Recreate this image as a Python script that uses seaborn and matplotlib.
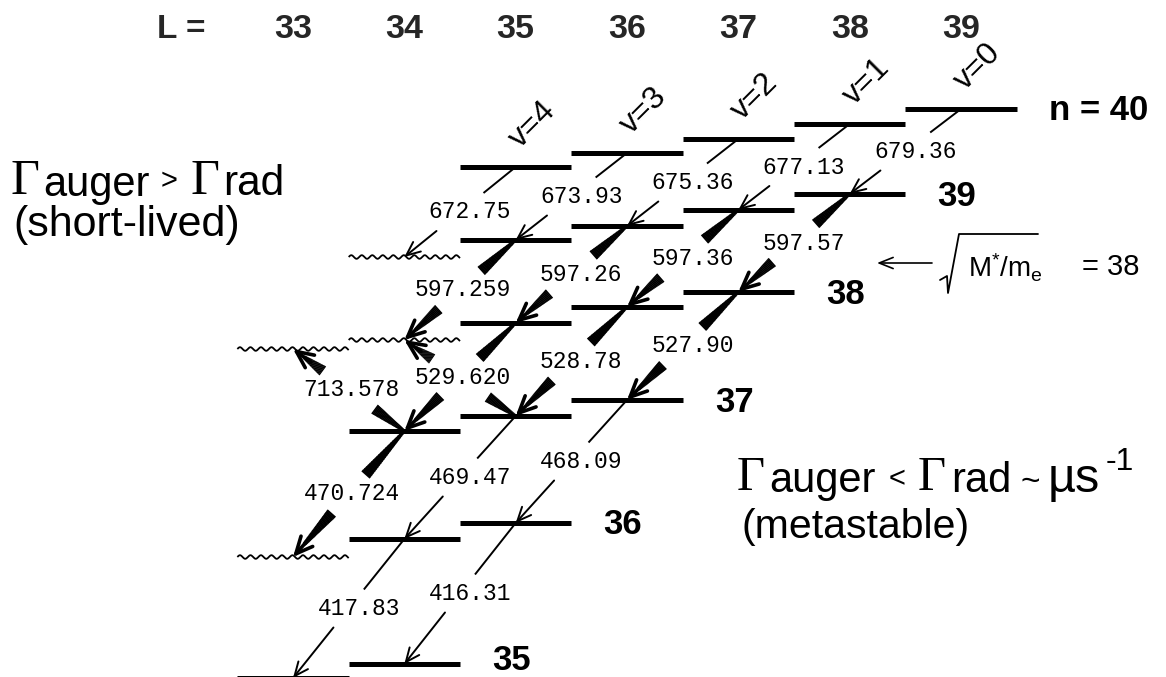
import numpy as np
import pandas as pd
import matplotlib
matplotlib.use("Agg")
import matplotlib.pyplot as plt
from matplotlib.collections import LineCollection
import seaborn as sns

# ------------------------------------------------------------------ data
# energy levels: principal quantum number n, angular momentum L,
# energy (arbitrary units) and how the level is drawn
level_n = [40, 40, 40, 40, 40,
           39, 39, 39, 39, 39,
           38, 38, 38, 38, 38,
           37, 37, 37,
           36, 36, 36,
           35, 35]
level_L = [35, 36, 37, 38, 39,
           34, 35, 36, 37, 38,
           33, 34, 35, 36, 37,
           34, 35, 36,
           33, 34, 35,
           33, 34]
level_E = [510, 524, 538, 553, 568,
           420, 437, 451, 467, 483,
           328, 337, 354, 370, 385,
           246, 261, 277,
           120, 138, 154,
           -1, 13]
level_kind = ["bar"] * 5 + \
             ["wavy", "bar", "bar", "bar", "bar"] + \
             ["wavy", "wavy", "bar", "bar", "bar"] + \
             ["bar"] * 3 + \
             ["wavy", "bar", "bar"] + \
             ["bar", "bar"]

# transitions (from level -> to level), wavelength label (nm), strength
tr_from_n = [40, 40, 40, 40, 40, 39, 39, 39, 39, 38, 38, 38, 37, 37, 37, 36, 36, 37, 37]
tr_from_L = [35, 36, 37, 38, 39, 35, 36, 37, 38, 35, 36, 37, 34, 35, 36, 34, 35, 34, 35]
tr_to_n   = [39, 39, 39, 39, 39, 38, 38, 38, 38, 37, 37, 37, 36, 36, 36, 35, 35, 38, 38]
tr_to_L   = [34, 35, 36, 37, 38, 34, 35, 36, 37, 34, 35, 36, 33, 34, 35, 33, 34, 33, 34]
tr_label  = ["672.75", "673.93", "675.36", "677.13", "679.36",
             "597.259", "597.26", "597.36", "597.57",
             "529.620", "528.78", "527.90",
             "470.724", "469.47", "468.09",
             "417.83", "416.31",
             "713.578", ""]
tr_weight = ["thin"] * 5 + ["thick"] * 4 + ["thick"] * 3 + \
            ["thick", "thin", "thin"] + ["thin", "thin"] + ["thick", "thick"]

v_labels = ["v=4", "v=3", "v=2", "v=1", "v=0"]
v_L = [35, 36, 37, 38, 39]
L_ticks = [33, 34, 35, 36, 37, 38, 39]
n_values = [40, 39, 38, 37, 36, 35]

# ------------------------------------------------------------------ style
sns.set_theme(style="white")
plt.rcParams["font.family"] = ["Liberation Sans", "DejaVu Sans"]
plt.rcParams["mathtext.fontset"] = "custom"
plt.rcParams["mathtext.rm"] = "Liberation Sans"
plt.rcParams["mathtext.sf"] = "Liberation Sans"
plt.rcParams["mathtext.it"] = "Liberation Sans"

W, H, DPI = 1166, 677, 100
X0_PX, PX_PER_L = 293.0, 111.33
PT = 0.72  # points per pixel

fig = plt.figure(figsize=(W / DPI, H / DPI), dpi=DPI)
ax = fig.add_axes([0, 0, 1, 1])
ax.set_xlim(33 - X0_PX / PX_PER_L, 33 + (W - X0_PX) / PX_PER_L)
ax.set_ylim(0, H)

lev = pd.DataFrame(dict(n=level_n, L=level_L, E=level_E, kind=level_kind))
E_of = {(r.n, r.L): r.E for r in lev.itertuples()}

# level bars via seaborn
bars = lev[lev.kind == "bar"]
seg = pd.concat([bars.assign(x=bars.L - 0.5), bars.assign(x=bars.L + 0.5)])
seg["uid"] = seg.n.astype(str) + "-" + seg.L.astype(str)
sns.lineplot(data=seg, x="x", y="E", units="uid", estimator=None, color="black",
             lw=5 * PT, legend=False, ax=ax, solid_capstyle="butt")

# Auger-dominated (short-lived) levels: wavy lines
for r in lev[lev.kind == "wavy"].itertuples():
    xs = np.linspace(r.L - 0.5, r.L + 0.5, 400)
    ys = r.E + 1.8 * np.sin(2 * np.pi * (xs - (r.L - 0.5)) * PX_PER_L / 10.5)
    ax.plot(xs, ys, color="black", lw=1.3, solid_capstyle="butt")


def taper(p, t0, t1, w0, w1, n=24):
    ts = np.linspace(t0, t1, n + 1)
    segs = []
    for i in range(n):
        a = p(ts[i])
        b = p(min(ts[i + 1] + (ts[1] - ts[0]) * 0.3, t1))
        segs.append([a, b])
    lws = np.linspace(w0, w1, n) * PT
    ax.add_collection(LineCollection(segs, linewidths=lws, colors="black",
                                     capstyle="butt"))


GAP = 38
for fn, fL, tn, tL, lab, wt in zip(tr_from_n, tr_from_L, tr_to_n, tr_to_L,
                                   tr_label, tr_weight):
    x0, y0 = fL, E_of[(fn, fL)]
    x1, y1 = tL, E_of[(tn, tL)]
    dE = abs(y1 - y0)
    ta = 0.5 - GAP / 2 / dE
    tb = 0.5 + GAP / 2 / dE

    def P(t, x0=x0, y0=y0, x1=x1, y1=y1):
        return (x0 + (x1 - x0) * t, y0 + (y1 - y0) * t)

    if wt == "thin":
        pa = P(ta)
        ax.plot([x0, pa[0]], [y0, pa[1]], color="black", lw=1.4,
                solid_capstyle="butt")
        ax.annotate("", xy=(x1, y1), xytext=P(tb), annotation_clip=False,
                    arrowprops=dict(arrowstyle="->,head_length=0.5,head_width=0.22",
                                    lw=1.4, color="black", shrinkA=0, shrinkB=0,
                                    mutation_scale=20))
    else:
        taper(P, 0.0, ta, 3, 11)
        taper(P, tb, 0.9, 11, 4)
        ax.annotate("", xy=(x1, y1), xytext=P(tb + (1 - tb) * 0.4),
                    annotation_clip=False,
                    arrowprops=dict(arrowstyle="->,head_length=0.6,head_width=0.28",
                                    lw=2.6, color="black", shrinkA=0, shrinkB=0,
                                    mutation_scale=20))
    if lab:
        mx, my = P(0.5)
        ax.text(mx + 0.46, my, lab, ha="right", va="center",
                family="Liberation Mono", fontsize=16.5, color="black")

# v labels above n = 40 levels
for lab, L in zip(v_labels, v_L):
    ax.text(L + 0.15, E_of[(40, L)] + 42, lab, rotation=45, ha="center",
            va="center", fontsize=23, color="black")

# n labels at right end of each row
for n in n_values:
    Ls = [L for (nn, L) in E_of if nn == n]
    Lr = max(Ls)
    txt = "n = 40" if n == 40 else str(n)
    dy = 3 if n == 35 else -2
    ax.text(Lr + 0.5 + 0.29, E_of[(n, Lr)] + dy, txt, ha="left", va="center",
            fontsize=25, fontweight="bold", color="black")

# L labels along the top
for L in L_ticks:
    ax.text(L, 1 - 29 / H, str(L), transform=ax.get_xaxis_transform(),
            ha="center", va="center", fontsize=24.5, fontweight="bold")
ax.text(181 / W, 1 - 29 / H, "L =", transform=ax.transAxes, ha="center",
        va="center", fontsize=24, fontweight="bold")

# explanatory text, placed piece by piece (serif Gamma + sans subscripts)
SERIF, SANS = "Liberation Serif", "Liberation Sans"


def pieces(base_px, items):
    for s, x_px, size, fam, dy in items:
        fig.text(x_px / W, 1 - (base_px + dy) / H, s, fontsize=size,
                 family=fam, ha="left", va="baseline", color="black")


pieces(194, [("\u0393", 10, 36, SERIF, 0),
             ("auger", 43, 30, SANS, 2),
             (">", 161, 21, SANS, -5),
             ("\u0393", 190, 36, SERIF, 0),
             ("rad", 223, 30.5, SANS, 1)])
fig.text(13 / W, 1 - 225 / H, "(short-lived)", ha="left", va="center",
         fontsize=31, color="black")

pieces(490, [("\u0393", 737, 35, SERIF, 0),
             ("auger", 769, 30, SANS, 2),
             ("<", 889, 21, SANS, -3),
             ("\u0393", 918, 35, SERIF, 0),
             ("rad", 951, 30, SANS, 2),
             ("~", 1021, 24, SANS, 1),
             ("\u00b5s", 1048, 35, SANS, 2),
             ("-1", 1106, 23, SANS, -20)])
fig.text(742 / W, 1 - 527 / H, "(metastable)", ha="left", va="center",
         fontsize=29.5, color="black")

# sqrt(M*/m_e) = 38 annotation with a tall radical sign
rad_x = np.array([940, 947, 948, 959, 1038]) / W
rad_y = 1 - np.array([280, 276, 293, 234, 234]) / H
fig.add_artist(plt.Line2D(rad_x, rad_y, transform=fig.transFigure,
                          color="black", lw=1.3))
fig.text(968 / W, 1 - 268 / H, r"$\mathrm{M^{*}/m_{e}}$", ha="left",
         va="center", fontsize=20, color="black")
fig.text(1082 / W, 1 - 267 / H, "= 38", ha="left", va="center", fontsize=21,
         color="black")
ax.annotate("", xy=(877 / W, 1 - 263 / H), xytext=(932 / W, 1 - 263 / H),
            xycoords="axes fraction", textcoords="axes fraction",
            arrowprops=dict(arrowstyle="->,head_length=0.5,head_width=0.2",
                            lw=1.2, color="black", shrinkA=0, shrinkB=0,
                            mutation_scale=20))

ax.set_xlim(33 - X0_PX / PX_PER_L, 33 + (W - X0_PX) / PX_PER_L)
ax.set_ylim(0, H)
ax.axis("off")
fig.savefig("out.png", dpi=DPI, facecolor="white")
